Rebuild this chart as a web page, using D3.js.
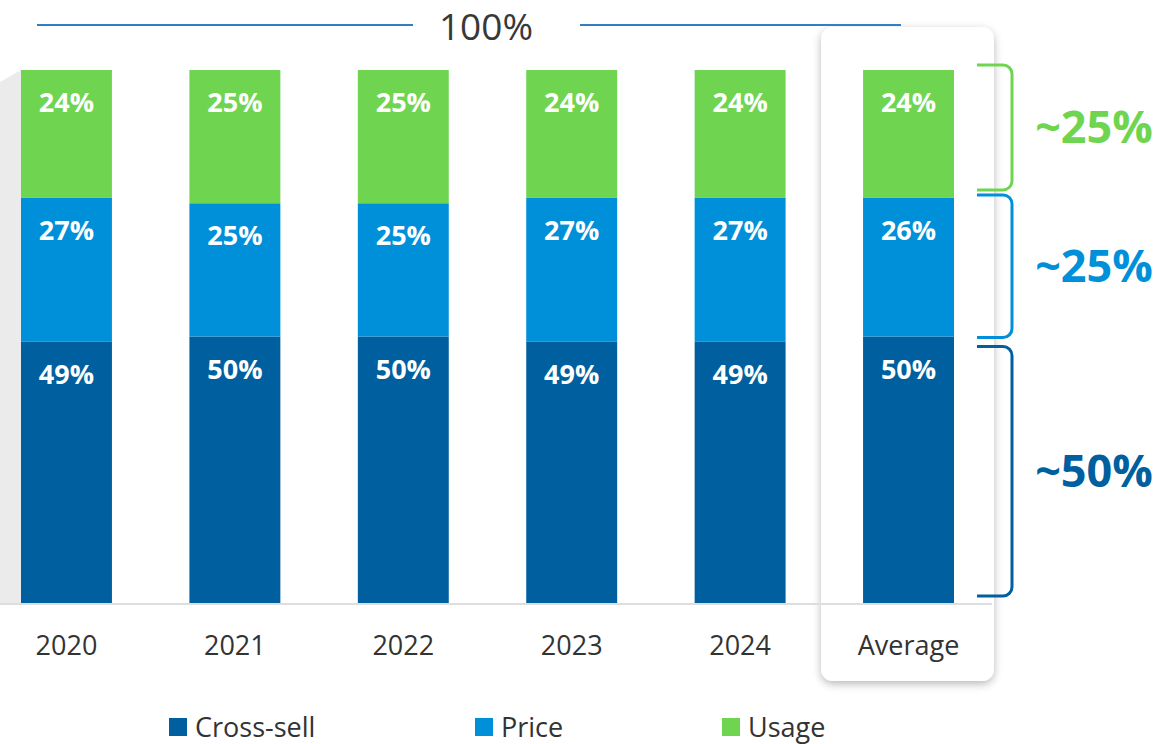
<!DOCTYPE html>
<html>
<head>
<meta charset="utf-8">
<script src="https://cdn.jsdelivr.net/npm/d3@7"></script>
<style>
  html, body { margin: 0; padding: 0; background: #fff; }
  svg { display: block; font-family: "Open Sans", sans-serif; }
</style>
</head>
<body>
<svg id="chart" width="1173" height="744"></svg>
<script>
// data
var categories = ["2020", "2021", "2022", "2023", "2024", "Average"];
var crossSell = [49, 50, 50, 49, 49, 50];
var price = [27, 25, 25, 27, 27, 26];
var usage = [24, 25, 25, 24, 24, 24];
var seriesNames = ["Cross-sell", "Price", "Usage"];
var seriesColors = ["#005f9e", "#008fd9", "#6fd551"];
var ranges = ["~50%", "~25%", "~25%"];
var totalLabel = "100%";

var svg = d3.select("#chart");

var x = d3.scaleBand()
    .domain(categories)
    .range([21, 954])
    .paddingInner(0.46)
    .paddingOuter(0);

var y = d3.scaleLinear()
    .domain([0, 100])
    .range([603, 70]);

// shadow for the average card
var defs = svg.append("defs");
var f = defs.append("filter").attr("id", "shadow")
    .attr("x", "-20%").attr("y", "-10%").attr("width", "140%").attr("height", "120%");
f.append("feDropShadow")
    .attr("dx", 0).attr("dy", 3)
    .attr("stdDeviation", 4)
    .attr("flood-color", "#000")
    .attr("flood-opacity", 0.28);

// grey edge of a cut-off panel on the left
svg.append("polygon")
    .attr("points", "0,82 21,70 21,603 0,603")
    .attr("fill", "#ebebeb");

// card behind the average bar
var avgX = x("Average");
svg.append("rect")
    .attr("x", avgX - 42)
    .attr("y", 27)
    .attr("width", x.bandwidth() + 82)
    .attr("height", 654)
    .attr("rx", 12)
    .attr("fill", "#fff")
    .attr("filter", "url(#shadow)");

// baseline
svg.append("line")
    .attr("x1", 0).attr("x2", avgX + x.bandwidth() + 38)
    .attr("y1", y(0) + 1).attr("y2", y(0) + 1)
    .attr("stroke", "#dedede")
    .attr("stroke-width", 2);

// 100% line
svg.append("line")
    .attr("x1", 37).attr("x2", 413).attr("y1", 25).attr("y2", 25)
    .attr("stroke", "#2f7fc1").attr("stroke-width", 2);
svg.append("line")
    .attr("x1", 580).attr("x2", 901).attr("y1", 25).attr("y2", 25)
    .attr("stroke", "#2f7fc1").attr("stroke-width", 2);
svg.append("text")
    .attr("x", 486).attr("y", 40)
    .attr("text-anchor", "middle")
    .attr("font-size", 37)
    .attr("fill", "#383838")
    .text(totalLabel);

// stack the series
var rows = categories.map(function (c, i) {
    return {cat: c, "Cross-sell": crossSell[i], "Price": price[i], "Usage": usage[i]};
});
var stack = d3.stack().keys(seriesNames);
var layers = stack(rows);

var g = svg.selectAll(".layer")
    .data(layers)
    .enter().append("g")
    .attr("class", "layer")
    .attr("fill", function (d, i) { return seriesColors[i]; });

g.selectAll("rect")
    .data(function (d) { return d; })
    .enter().append("rect")
    .attr("x", function (d) { return x(d.data.cat); })
    .attr("y", function (d) { return y(d[1]); })
    .attr("width", x.bandwidth())
    .attr("height", function (d) { return y(d[0]) - y(d[1]); });

g.selectAll("text")
    .data(function (d) { return d.map(function (p) { return {p: p, key: d.key}; }); })
    .enter().append("text")
    .attr("x", function (d) { return x(d.p.data.cat) + x.bandwidth() / 2; })
    .attr("y", function (d) { return y(d.p[1]) + 42; })
    .attr("text-anchor", "middle")
    .attr("font-size", 27)
    .attr("font-weight", "bold")
    .attr("fill", "#fff")
    .text(function (d) { return d.p.data[d.key] + "%"; });

// category labels
svg.selectAll(".cat")
    .data(categories)
    .enter().append("text")
    .attr("class", "cat")
    .attr("x", function (d) { return x(d) + x.bandwidth() / 2; })
    .attr("y", 655)
    .attr("text-anchor", "middle")
    .attr("font-size", 27)
    .attr("fill", "#333")
    .text(function (d) { return d; });

// brackets on the right, from the average column
var avgRow = layers.map(function (l) { return l[l.length - 1]; });
var bx0 = 977, bx1 = 1012, r = 9;
var bracketSpans = [[y(avgRow[0][0]) - 7, y(avgRow[0][1]) + 10],
                    [y(avgRow[1][0]) + 1, y(avgRow[1][1]) - 3],
                    [y(avgRow[2][0]) - 8, y(avgRow[2][1]) - 5]];

bracketSpans.forEach(function (s, i) {
    var bot = s[0], top = s[1];
    var path = d3.path();
    path.moveTo(bx0, top);
    path.lineTo(bx1 - r, top);
    path.arcTo(bx1, top, bx1, top + r, r);
    path.lineTo(bx1, bot - r);
    path.arcTo(bx1, bot, bx1 - r, bot, r);
    path.lineTo(bx0, bot);
    svg.append("path")
        .attr("d", path.toString())
        .attr("fill", "none")
        .attr("stroke", seriesColors[i])
        .attr("stroke-width", 3);
    svg.append("text")
        .attr("x", 1094)
        .attr("y", (top + bot) / 2 + 16)
        .attr("text-anchor", "middle")
        .attr("font-size", 45)
        .attr("font-weight", "bold")
        .attr("fill", seriesColors[i])
        .text(ranges[i]);
});

// legend
var legendX = [169, 475, 722];
var lg = svg.selectAll(".legend")
    .data(seriesNames)
    .enter().append("g")
    .attr("class", "legend")
    .attr("transform", function (d, i) { return "translate(" + legendX[i] + ",718)"; });
lg.append("rect")
    .attr("width", 18).attr("height", 18)
    .attr("fill", function (d, i) { return seriesColors[i]; });
lg.append("text")
    .attr("x", 26).attr("y", 19)
    .attr("font-size", 27)
    .attr("fill", "#333")
    .text(function (d) { return d; });
</script>
</body>
</html>
